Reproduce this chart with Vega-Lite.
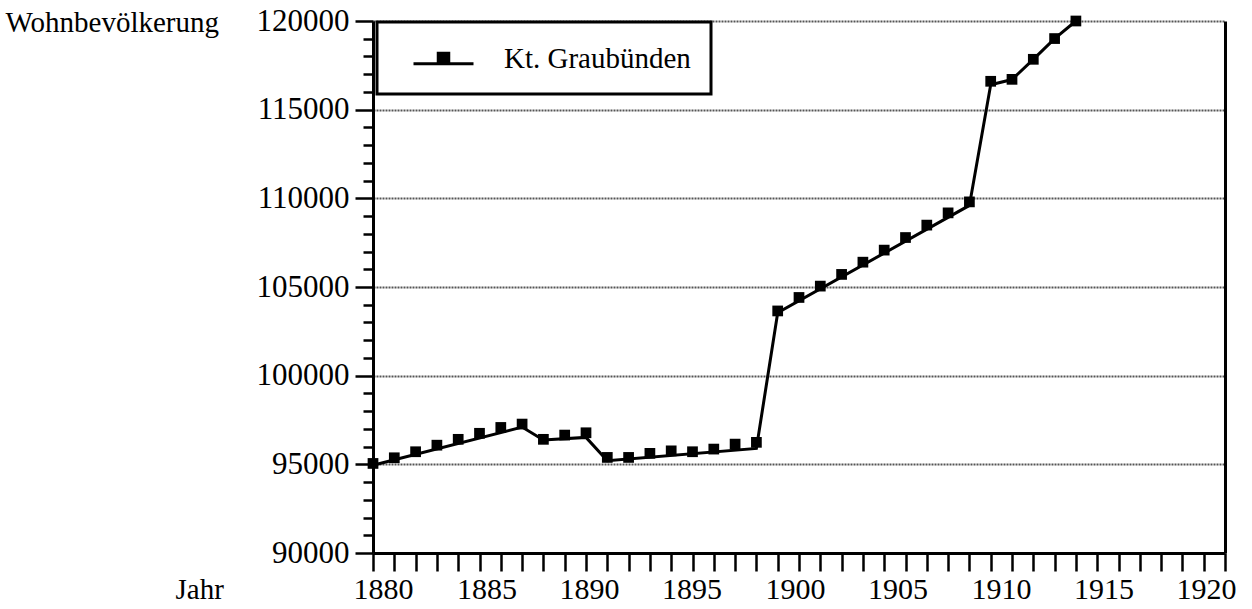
{
  "$schema": "https://vega.github.io/schema/vega-lite/v6.json",
  "width": 852,
  "height": 532,
  "autosize": "none",
  "padding": {"left": 373, "top": 21, "right": 27, "bottom": 56},
  "background": "white",
  "config": {
    "view": {"stroke": null},
    "font": "Liberation Serif",
    "legend": {
      "strokeColor": "black",
      "strokeWidth": 3,
      "fillColor": "white",
      "padding": 20
    }
  },
  "data": {
    "values": [
      {"year": 1880, "pop": 95050, "line": 94950},
      {"year": 1881, "pop": 95370, "line": null},
      {"year": 1882, "pop": 95710, "line": null},
      {"year": 1883, "pop": 96080, "line": null},
      {"year": 1884, "pop": 96410, "line": null},
      {"year": 1885, "pop": 96750, "line": null},
      {"year": 1886, "pop": 97080, "line": null},
      {"year": 1887, "pop": 97270, "line": 97100},
      {"year": 1888, "pop": 96410, "line": 96370},
      {"year": 1889, "pop": 96650, "line": null},
      {"year": 1890, "pop": 96780, "line": 96520},
      {"year": 1891, "pop": 95390, "line": 95200},
      {"year": 1892, "pop": 95390, "line": null},
      {"year": 1893, "pop": 95620, "line": null},
      {"year": 1894, "pop": 95760, "line": null},
      {"year": 1895, "pop": 95710, "line": null},
      {"year": 1896, "pop": 95860, "line": null},
      {"year": 1897, "pop": 96140, "line": null},
      {"year": 1898, "pop": 96240, "line": 95900},
      {"year": 1899, "pop": 103650, "line": 103550},
      {"year": 1900, "pop": 104410, "line": null},
      {"year": 1901, "pop": 105050, "line": null},
      {"year": 1902, "pop": 105710, "line": null},
      {"year": 1903, "pop": 106400, "line": null},
      {"year": 1904, "pop": 107080, "line": null},
      {"year": 1905, "pop": 107790, "line": null},
      {"year": 1906, "pop": 108490, "line": null},
      {"year": 1907, "pop": 109180, "line": null},
      {"year": 1908, "pop": 109800, "line": 109600},
      {"year": 1909, "pop": 116600, "line": 116400},
      {"year": 1910, "pop": 116710, "line": 116700},
      {"year": 1911, "pop": 117840, "line": 117840},
      {"year": 1912, "pop": 119010, "line": 119010},
      {"year": 1913, "pop": 120000, "line": 120000}
    ]
  },
  "encoding": {
    "x": {
      "field": "year",
      "type": "quantitative",
      "scale": {"domain": [1880, 1920], "nice": false, "zero": false},
      "axis": {
        "values": [1880,1881,1882,1883,1884,1885,1886,1887,1888,1889,1890,1891,1892,1893,1894,1895,1896,1897,1898,1899,1900,1901,1902,1903,1904,1905,1906,1907,1908,1909,1910,1911,1912,1913,1914,1915,1916,1917,1918,1919,1920],
        "labelExpr": "datum.value % 5 === 0 ? format(datum.value, 'd') : ''",
        "labelOverlap": false,
        "labelFlush": false,
        "labelFont": "Liberation Serif",
        "labelFontSize": 30,
        "labelColor": "black",
        "labelPadding": 3,
        "labelOffset": {
          "condition": [
            {"test": "datum.value === 1880", "value": 10},
            {"test": "datum.value === 1885", "value": 7},
            {"test": "datum.value === 1890", "value": 3},
            {"test": "datum.value === 1895", "value": -1},
            {"test": "datum.value === 1900", "value": -4},
            {"test": "datum.value === 1905", "value": -8},
            {"test": "datum.value === 1910", "value": -11},
            {"test": "datum.value === 1915", "value": -15},
            {"test": "datum.value === 1920", "value": -19}
          ],
          "value": 0
        },
        "tickSize": 18,
        "tickWidth": 2.5,
        "tickColor": "black",
        "domainColor": "black",
        "domainWidth": 3,
        "grid": false,
        "title": "Jahr",
        "titleFont": "Liberation Serif",
        "titleFontSize": 29,
        "titleFontWeight": "normal",
        "titleColor": "black",
        "titleAlign": "left",
        "titleBaseline": "alphabetic",
        "titleAnchor": "start",
        "titleX": -198,
        "titleY": 45
      }
    },
    "color": {
      "datum": "Kt. Graubünden",
      "type": "nominal",
      "scale": {"range": ["black"]},
      "legend": {
        "title": null,
        "orient": "none",
        "legendX": 4,
        "legendY": 1,
        "symbolType": "M0,0.35H4M1.65,0.35V-0.35H2.35V0.35Z",
        "symbolSize": 900,
        "symbolStrokeWidth": 3,
        "symbolStrokeColor": "black",
        "symbolFillColor": "black",
        "symbolOpacity": 1,
        "labelFont": "Liberation Serif",
        "labelFontSize": 29,
        "labelColor": "black",
        "labelOffset": 74,
        "labelLimit": 500
      }
    }
  },
  "layer": [
    {
      "transform": [{"filter": "isValid(datum.line)"}],
      "mark": {"type": "line", "strokeWidth": 3},
      "encoding": {
        "y": {
          "field": "line",
          "type": "quantitative",
          "scale": {"domain": [90000, 120000], "nice": false, "zero": false},
          "axis": {
            "orient": "left",
            "values": [90000,91000,92000,93000,94000,95000,96000,97000,98000,99000,100000,101000,102000,103000,104000,105000,106000,107000,108000,109000,110000,111000,112000,113000,114000,115000,116000,117000,118000,119000,120000],
            "labelExpr": "datum.value % 5000 === 0 ? format(datum.value, 'd') : ''",
            "labelOverlap": false,
            "labelFlush": false,
            "labelFont": "Liberation Serif",
            "labelFontSize": 31,
            "labelColor": "black",
            "labelPadding": 6,
            "tickSize": {"condition": {"test": "datum.value % 5000 === 0", "value": 18}, "value": 10},
            "tickWidth": 2.5,
            "tickColor": "black",
            "domainColor": "black",
            "domainWidth": 3,
            "grid": true,
            "gridColor": "#555555",
            "gridWidth": 2,
            "gridDash": [2, 1],
            "gridOpacity": {"condition": {"test": "datum.value % 5000 === 0 && datum.value > 90000", "value": 1}, "value": 0},
            "title": "Wohnbevölkerung",
            "titleFont": "Liberation Serif",
            "titleFontSize": 29,
            "titleFontWeight": "normal",
            "titleColor": "black",
            "titleAngle": 0,
            "titleAlign": "left",
            "titleBaseline": "alphabetic",
            "titleX": -368,
            "titleY": 10
          }
        }
      }
    },
    {
      "mark": {"type": "square", "size": 115, "filled": true, "opacity": 1},
      "encoding": {
        "y": {
          "field": "pop",
          "type": "quantitative",
          "axis": {
            "orient": "right",
            "labels": false,
            "ticks": false,
            "grid": false,
            "title": null,
            "domainColor": "black",
            "domainWidth": 3
          }
        }
      }
    }
  ],
  "resolve": {"axis": {"y": "independent"}}
}
